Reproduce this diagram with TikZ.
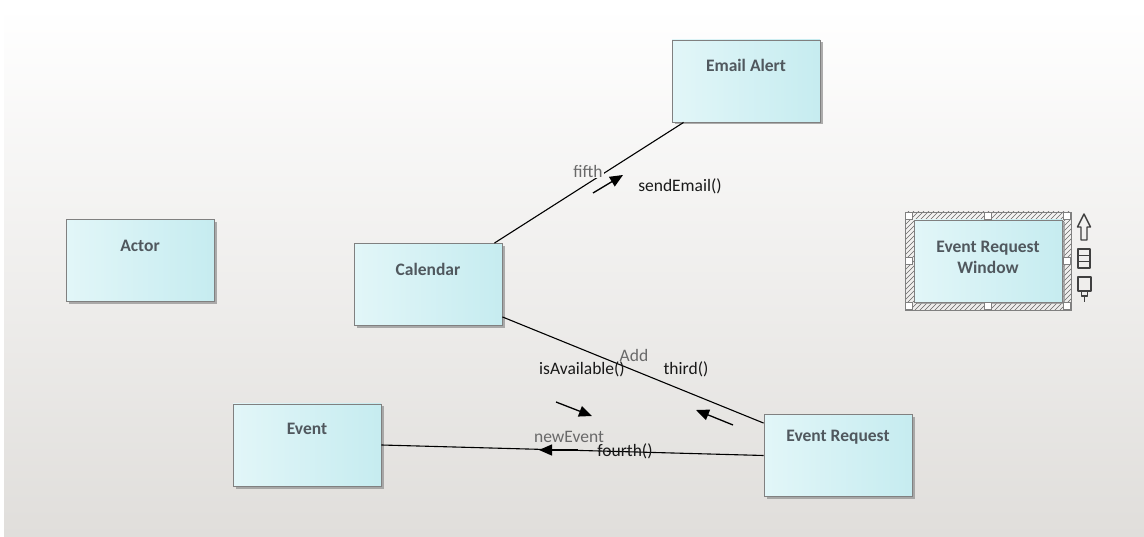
\documentclass[tikz,border=0pt]{standalone}
\usepackage{fontspec}
\setmainfont{Carlito}
\usetikzlibrary{arrows.meta,shadows}
\definecolor{bgbot}{RGB}{224,222,219}
\definecolor{boxL}{RGB}{226,246,248}
\definecolor{boxR}{RGB}{198,236,240}
\definecolor{boxborder}{RGB}{128,128,128}
\definecolor{boxtxt}{RGB}{80,88,94}
\definecolor{msgtxt}{RGB}{25,25,25}
\definecolor{roletxt}{RGB}{105,105,105}
\definecolor{lblbg}{RGB}{245,244,243}
\tikzset{
  cls/.style={draw=boxborder, line width=0.9pt, left color=boxL, right color=boxR,
    minimum width=148pt, minimum height=82pt, inner sep=0pt,
    drop shadow={shadow xshift=2.5pt, shadow yshift=-2.5pt, fill=black!40, opacity=0.8}},
  boxtext/.style={font=\bfseries\fontsize{17.5}{21}\selectfont, text=boxtxt, align=center, inner sep=0pt},
  msg/.style={font=\fontsize{17.5}{20}\selectfont, text=msgtxt, inner sep=0pt},
  role/.style={font=\fontsize{17.5}{20}\selectfont, text=roletxt, inner sep=0pt},
  conn/.style={draw=black, line width=1.1pt},
  msgarrow/.style={draw=black, line width=1.3pt, -{Triangle[length=13pt,width=11pt]}},
  handle/.style={draw=boxborder, fill=white, line width=0.6pt, minimum size=7pt, inner sep=0pt},
  icon/.style={draw=black!75, line width=1.4pt, line join=round},
  hatch/.style={draw=black!60, line width=0.6pt}
}
\begin{document}
\begin{tikzpicture}[x=1pt,y=1pt]
\useasboundingbox (0,0) rectangle (1144,-537);
\fill[white] (0,0) rectangle (1144,-537);
\shade[top color=white, bottom color=bgbot] (4,-7) rectangle (1144,-537);

% selection frame of Event Request Window
\begin{scope}
  \clip (905,-212) rectangle (1071,-310);
  \foreach \i in {0,5,...,280} {
    \draw[hatch] (800+\i,-315) -- ++(110,110);
  }
\end{scope}
\draw[boxborder, line width=0.6pt] (905,-212) rectangle (1071,-310);

% classes
\node[cls] (email) at (746,-81) {};
\node[cls] (actor) at (140,-260.5) {};
\node[cls] (cal) at (428,-284.5) {};
\node[cls, drop shadow={opacity=0}] (erw) at (988,-261) {};
\node[cls] (event) at (307,-445) {};
\node[cls] (er) at (838,-455.5) {};

\node[boxtext] (emailT) at ([yshift=-26pt]email.north) {Email Alert};
\node[boxtext] (actorT) at ([yshift=-27pt]actor.north) {Actor};
\node[boxtext] (calT) at ([yshift=-26pt]cal.north) {Calendar};
\node[boxtext] (erwT) at ([yshift=-37.5pt]erw.north) {Event Request\\Window};
\node[boxtext] (eventT) at ([yshift=-25pt]event.north) {Event};
\node[boxtext] (erT) at ([yshift=-23pt]er.north) {Event Request};

% handles
\node[handle] (h1) at (909,-216) {};
\node[handle] (h2) at (988,-216) {};
\node[handle] (h3) at (1067,-216) {};
\node[handle] (h4) at (909,-261) {};
\node[handle] (h5) at (1067,-261) {};
\node[handle] (h6) at (909,-306) {};
\node[handle] (h7) at (988,-306) {};
\node[handle] (h8) at (1067,-306) {};

% connectors
\draw[conn] ([xshift=-8pt]cal.north east) -- ([xshift=12pt]email.south west);
\draw[conn] ([yshift=9pt]cal.south east) -- ([yshift=-9pt]er.north west);
\draw[conn] (event.east) -- (er.west);

% message arrows
\coordinate (m1a) at (593,-193); \coordinate (m1b) at (623,-175);
\draw[msgarrow] (m1a) -- (m1b);
\coordinate (m2a) at (556,-402); \coordinate (m2b) at (592,-416);
\draw[msgarrow] (m2a) -- (m2b);
\coordinate (m3a) at (733,-425); \coordinate (m3b) at (696,-410);
\draw[msgarrow] (m3a) -- (m3b);
\coordinate (m4a) at (578,-450); \coordinate (m4b) at (539,-450);
\draw[msgarrow] (m4a) -- (m4b);

% labels
\node[role, fill=lblbg, inner sep=1pt] (l5) at (588,-171) {fifth};
\node[msg] (s5) at (680,-186) {sendEmail()};
\node[role] (ladd) at (634,-355) {Add};
\node[msg] (s1) at (582,-369) {isAvailable()};
\node[msg] (s3) at (686,-369) {third()};
\node[role] (lne) at (569,-437) {newEvent};
\node[msg] (s4) at (625,-451) {fourth()};

% toolbar icons
\draw[icon] (1081,-240) -- (1081,-227) -- (1077.5,-227) -- (1084,-214) -- (1090.5,-227) -- (1087,-227) -- (1087,-240) -- cycle;
\draw[icon] (1078,-249) rectangle (1090,-268);
\draw[icon] (1078,-255.5) -- (1090,-255.5);
\draw[icon] (1078,-261.5) -- (1090,-261.5);
\draw[icon] (1078,-277) rectangle (1091,-291);
\draw[icon] (1081.5,-291) rectangle (1087.5,-296);
\draw[icon] (1084.5,-296) -- (1084.5,-302);
\end{tikzpicture}
\end{document}
